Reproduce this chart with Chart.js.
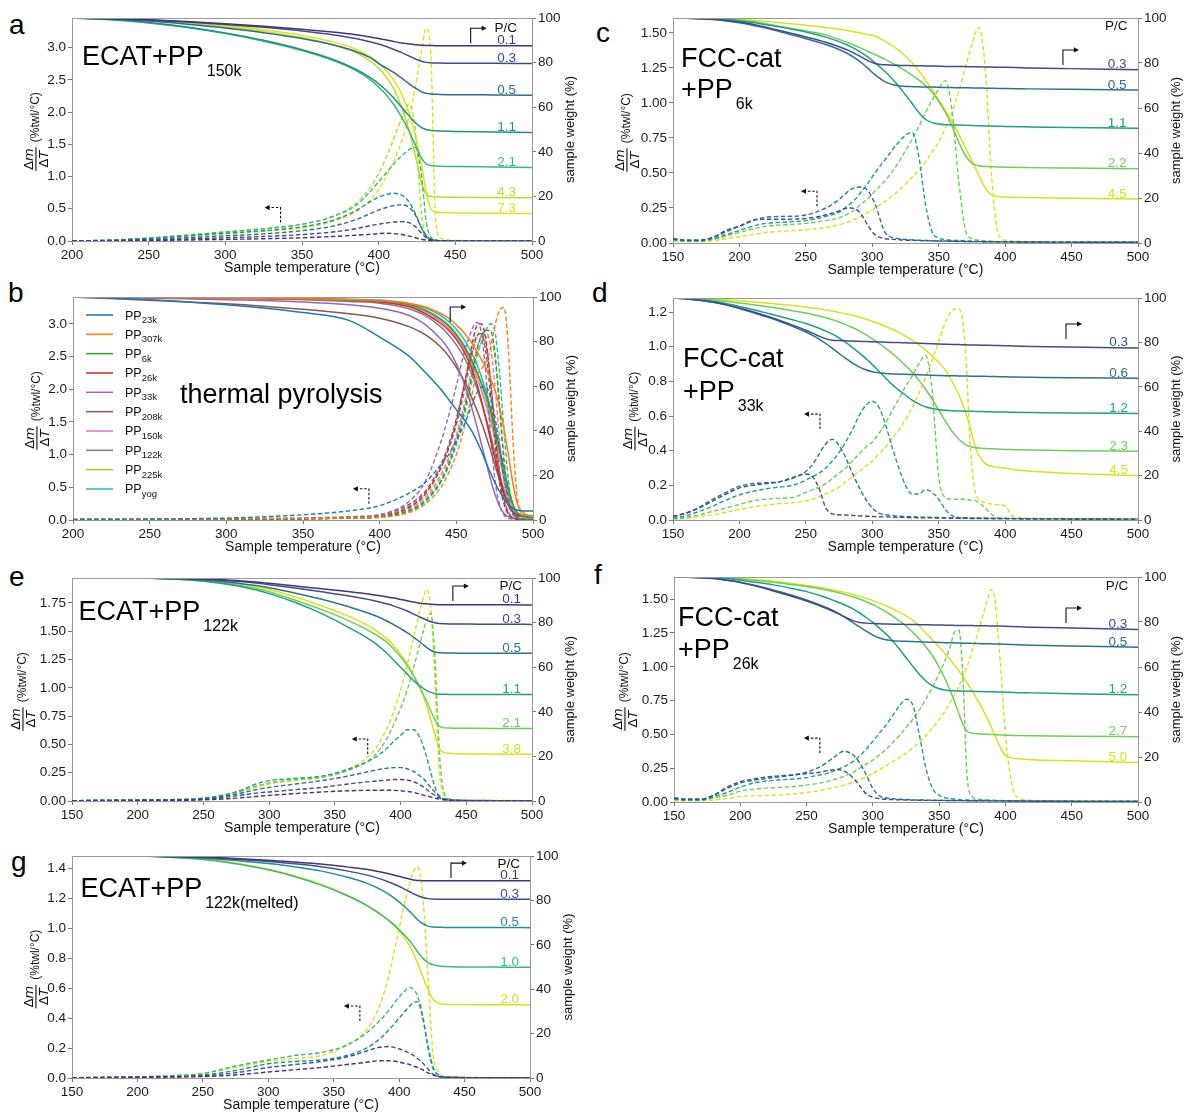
<!DOCTYPE html>
<html>
<head>
<meta charset="utf-8">
<script src="https://cdn.jsdelivr.net/npm/chart.js@4.4.1/dist/chart.umd.min.js"></script>
<style>
  html, body { margin: 0; padding: 0; background: #fff; }
  body { width: 1185px; height: 1113px; position: relative; overflow: hidden; }
  .panel { position: absolute; }
  .letter { position: absolute; font: 28px "Liberation Sans", Arial, sans-serif; line-height: 1; color: #000; }
</style>
</head>
<body>
<div class="letter" style="left:9px;top:11px">a</div>
<div class="letter" style="left:8px;top:279px">b</div>
<div class="letter" style="left:596px;top:19px">c</div>
<div class="letter" style="left:592px;top:279px">d</div>
<div class="letter" style="left:9px;top:563px">e</div>
<div class="letter" style="left:594px;top:561px">f</div>
<div class="letter" style="left:11px;top:848px">g</div>
<script>
// ---------- tick labels ----------
var ticksX200 = [200, 250, 300, 350, 400, 450, 500];
var ticksX150 = [150, 200, 250, 300, 350, 400, 450, 500];
var ticksW = [0, 20, 40, 60, 80, 100];
var ticksA = [0, 0.5, 1, 1.5, 2, 2.5, 3];
var ticksB = [0, 0.5, 1, 1.5, 2, 2.5, 3];
var ticksC = [0, 0.25, 0.5, 0.75, 1, 1.25, 1.5];
var ticksD = [0, 0.2, 0.4, 0.6, 0.8, 1, 1.2];
var ticksE = [0, 0.25, 0.5, 0.75, 1, 1.25, 1.5, 1.75];
var ticksF = [0, 0.25, 0.5, 0.75, 1, 1.25, 1.5];
var ticksG = [0, 0.2, 0.4, 0.6, 0.8, 1, 1.2, 1.4];

// ---------- panel a : ECAT + PP150k ----------
var pcA = ['0.1', '0.3', '0.5', '1.1', '2.1', '4.3', '7.3'];
var tempA = [200,225,250,275,300,325,350,370,385,395,400,405,410,415,420,424,428,431,434,437,440,450,475,500];
var tgaA = [
  [100,99.7,99.2,98.4,97.4,96.3,95,93.7,92.5,91.4,90.8,90.1,89.4,88.8,88.3,88,87.8,87.7,87.7,87.6,87.6,87.6,87.6,87.6],
  [100,99.7,99.1,98.2,97.1,95.8,94.2,92.5,90.8,89.2,88.3,87.2,85.9,84.5,82.9,81.6,80.6,80.1,79.9,79.8,79.8,79.7,79.7,79.6],
  [100,99.5,98.6,97.2,95.5,93.4,90.8,88,85,82,79.5,77.5,75.5,73,70.5,68.5,66.9,66.2,65.9,65.8,65.7,65.6,65.5,65.4],
  [100,99.3,98,96,93.3,90,85.8,81.5,77,73,70.5,67.5,64,60,56,53,50.8,50,49.6,49.4,49.3,49.1,48.9,48.7],
  [100,99.2,97.8,95.7,93,89.6,85.4,81,76.5,72,69,65.5,61,55.5,49,43,37,34.6,33.9,33.6,33.5,33.4,33.2,33],
  [100,99.5,98.8,97.6,96,94,91.2,88,84.5,80.5,77.5,73.5,68,60,49,38,26,21,20,19.8,19.7,19.6,19.5,19.4],
  [100,99.6,99,98,96.6,94.7,92.2,89.3,86,82.5,80,76.5,72,66,57,47,34,22,14.5,13,12.8,12.6,12.4,12.3]
];
var dtgA = [
  [0,0.003,0.008,0.015,0.025,0.035,0.05,0.07,0.09,0.105,0.115,0.12,0.115,0.1,0.075,0.05,0.028,0.015,0.008,0.004,0.002,0.001,0,0],
  [0,0.005,0.015,0.03,0.05,0.07,0.1,0.14,0.19,0.24,0.26,0.28,0.295,0.3,0.28,0.22,0.12,0.05,0.02,0.008,0.004,0.002,0.001,0],
  [0,0.008,0.025,0.05,0.08,0.11,0.16,0.23,0.33,0.43,0.48,0.52,0.55,0.56,0.52,0.4,0.2,0.08,0.03,0.01,0.005,0.002,0.001,0],
  [0,0.012,0.04,0.08,0.12,0.16,0.22,0.32,0.47,0.62,0.68,0.72,0.74,0.71,0.6,0.42,0.2,0.07,0.025,0.01,0.005,0.002,0.001,0],
  [0,0.015,0.045,0.09,0.14,0.19,0.26,0.38,0.55,0.78,0.92,1.06,1.2,1.32,1.42,1.45,1.0,0.3,0.06,0.02,0.008,0.003,0.001,0],
  [0,0.015,0.045,0.09,0.14,0.19,0.26,0.38,0.58,0.85,1.05,1.3,1.6,1.9,2.13,1.7,0.4,0.08,0.02,0.008,0.004,0.002,0.001,0],
  [0,0.012,0.035,0.07,0.11,0.15,0.2,0.3,0.45,0.65,0.8,1.0,1.25,1.55,1.95,2.4,2.95,3.3,2.9,0.4,0.05,0.01,0.003,0]
];

// ---------- panel b : thermal pyrolysis ----------
var namesB = ['23k', '307k', '6k', '26k', '33k', '208k', '150k', '122k', '225k', 'yog'];
var tempB = [200,250,300,350,380,400,420,430,440,445,450,455,460,463,466,469,472,475,478,481,484,487,490,495,500];
var tgaB = [
  [100,98.8,96.5,93,89.5,82,73,66,58.5,54,49.5,45,40,36,31.5,26.5,21.5,17,13,9.5,7,5.2,4.4,4,4],
  [100,99.8,99.5,99.2,98.8,98.3,97,95.5,92.5,90.5,87.5,84,79.5,76,72.5,68.5,64,58.5,51,41,29,16,7,2.5,1.5],
  [100,99.9,99.7,99.3,98.8,98.3,96.5,94,90,87,83,78,71.5,67,62,56.5,50,41,32,23,14,7,3,1.5,1.2],
  [100,99.8,99.5,99,98.5,97.8,95.5,92.5,88,85,81,75.5,68,62,54.5,46,37,28,19.5,12,6.5,3.5,2,1.5,1.2],
  [100,99.5,98.8,97.8,96.5,95,91.5,87.5,81,76.5,70,61.5,50.5,43,35,27,19,12,6.5,3,1.5,0.8,0.5,0.5,0.5],
  [100,98.5,97,94.5,92.5,90.5,86.5,83,77.5,73.5,68.5,62.5,55,50,44.5,38.5,32,25,18.5,12,7,3.8,2.2,1.5,1.5],
  [100,99.9,99.6,99.2,98.6,98,96,93.5,89,86,82,77,70,65,59,52.5,45,37,28,19,11,5.5,2.5,1.5,1.2],
  [100,99.8,99.4,98.8,98,97.2,94.5,91.5,86.5,83,78.5,73,65.5,60,53.5,46.5,39,30.5,21.5,13.5,7,3.5,2,1.5,1.5],
  [100,99.9,99.7,99.3,98.8,98.2,96.5,94,90,87.5,83.5,78.5,72,67,61.5,55,47.5,39,30,21,12.5,6,3,1.8,1.5],
  [100,99.9,99.8,99.5,99,98.6,97,95,91.5,89,85.5,81,75,70.5,65,58.5,51,42.5,33,23,13.5,6.5,3,2.2,2]
];
var dtgB = [
  [0.01,0.015,0.03,0.08,0.14,0.22,0.42,0.58,0.85,1.0,1.22,1.45,1.75,1.93,2.03,2.04,1.9,1.6,1.15,0.65,0.3,0.1,0.03,0.01,0.01],
  [0.01,0.01,0.02,0.025,0.03,0.04,0.12,0.25,0.5,0.72,1.0,1.4,1.9,2.2,2.3,2.4,2.6,2.95,3.2,3.25,2.6,1.2,0.3,0.03,0.01],
  [0,0.005,0.01,0.02,0.03,0.05,0.15,0.3,0.6,0.85,1.2,1.65,2.2,2.55,2.8,2.9,2.9,2.6,1.8,0.9,0.35,0.1,0.03,0.01,0],
  [0,0.005,0.01,0.02,0.03,0.05,0.2,0.4,0.8,1.1,1.5,2.05,2.65,2.95,3.0,2.8,2.2,1.4,0.7,0.3,0.1,0.03,0.01,0,0],
  [0,0.005,0.01,0.02,0.04,0.08,0.3,0.6,1.2,1.6,2.05,2.55,2.9,3.02,2.9,2.3,1.4,0.65,0.25,0.08,0.03,0.01,0,0,0],
  [0.01,0.015,0.02,0.03,0.05,0.08,0.25,0.45,0.85,1.15,1.55,2.05,2.55,2.8,2.85,2.6,2.0,1.25,0.6,0.25,0.08,0.03,0.01,0,0],
  [0,0.005,0.01,0.02,0.03,0.05,0.18,0.35,0.7,0.95,1.3,1.75,2.3,2.6,2.8,2.88,2.7,2.1,1.3,0.6,0.22,0.07,0.02,0,0],
  [0,0.005,0.01,0.02,0.03,0.06,0.22,0.42,0.8,1.1,1.45,1.95,2.5,2.78,2.87,2.7,2.2,1.5,0.8,0.35,0.12,0.04,0.01,0,0],
  [0,0.005,0.01,0.02,0.03,0.05,0.16,0.32,0.65,0.9,1.25,1.7,2.2,2.5,2.7,2.8,2.78,2.5,1.8,1.0,0.4,0.12,0.03,0.01,0],
  [0,0.005,0.01,0.02,0.03,0.04,0.14,0.28,0.58,0.82,1.15,1.58,2.1,2.45,2.7,2.88,3.0,2.9,2.3,1.4,0.6,0.2,0.05,0.01,0]
];

// ---------- panel c : FCC-cat + PP6k ----------
var pcC = ['0.3', '0.5', '1.1', '2.2', '4.5'];
var tempC = [150,160,170,180,190,200,210,220,235,250,265,275,282,287,292,297,302,310,318,325,330,335,340,345,350,355,360,365,370,375,380,385,390,395,400,420,450,500];
var tgaC = [
  [100,99.9,99.7,99.4,98.9,98.2,97.2,95.9,93.8,91.6,89.2,87.2,85.6,84.2,82.6,81,79.8,79.2,79,78.9,78.8,78.8,78.7,78.7,78.6,78.5,78.5,78.4,78.4,78.3,78.3,78.2,78.2,78.1,78.1,77.8,77.5,77],
  [100,99.9,99.7,99.3,98.7,97.9,96.8,95.5,93.2,90.8,88.2,86,84,82.2,80,77.5,74.8,71.5,70,69.6,69.5,69.4,69.3,69.3,69.2,69.1,69.1,69,69,68.9,68.9,68.8,68.8,68.7,68.7,68.5,68.3,68],
  [100,99.9,99.8,99.6,99.2,98.7,98,97,95.5,93.8,91.5,89.5,87.8,86.3,84.5,82.5,80.2,76,71,65.8,62,58,55,53.5,52.9,52.6,52.5,52.4,52.3,52.2,52.1,52,52,51.9,51.8,51.6,51.3,51],
  [100,99.9,99.8,99.7,99.4,99,98.4,97.5,95.8,94.2,92.5,90.5,89,87.8,86.5,85,83.8,81.5,79,76.5,74.5,72.5,70,67,63,58,52,45,39,35.5,34.3,34,33.9,33.8,33.7,33.5,33.3,33],
  [100,100,99.9,99.8,99.6,99.3,99,98.5,97.7,96.8,95.8,95,94.3,93.8,93.2,92.6,92,89.5,86.5,83,80,76.5,72.5,68,63.5,59,54,48.5,42.5,36.5,30.5,24.5,21.3,20.7,20.4,20.2,19.9,19.5]
];
var dtgC = [
  [0.03,0.02,0.02,0.04,0.09,0.12,0.16,0.17,0.17,0.175,0.2,0.23,0.25,0.245,0.2,0.12,0.06,0.03,0.025,0.02,0.02,0.018,0.016,0.015,0.014,0.013,0.012,0.011,0.01,0.01,0.01,0.009,0.009,0.008,0.008,0.007,0.006,0.005],
  [0.03,0.02,0.02,0.04,0.08,0.12,0.16,0.185,0.19,0.2,0.25,0.31,0.37,0.395,0.4,0.37,0.28,0.07,0.035,0.025,0.022,0.02,0.018,0.016,0.015,0.014,0.013,0.012,0.011,0.01,0.01,0.009,0.009,0.008,0.008,0.007,0.006,0.005],
  [0.025,0.015,0.015,0.03,0.06,0.09,0.12,0.14,0.15,0.16,0.19,0.22,0.27,0.31,0.37,0.43,0.5,0.6,0.7,0.77,0.79,0.62,0.28,0.08,0.035,0.025,0.02,0.018,0.016,0.014,0.012,0.011,0.01,0.009,0.008,0.007,0.006,0.005],
  [0.02,0.012,0.012,0.025,0.05,0.075,0.1,0.12,0.13,0.14,0.16,0.18,0.21,0.24,0.28,0.32,0.37,0.45,0.55,0.66,0.74,0.83,0.93,1.02,1.1,1.16,0.95,0.45,0.1,0.03,0.02,0.015,0.012,0.01,0.009,0.008,0.007,0.006],
  [0.015,0.01,0.01,0.015,0.03,0.045,0.06,0.075,0.085,0.095,0.11,0.13,0.15,0.17,0.19,0.22,0.25,0.3,0.36,0.42,0.47,0.52,0.58,0.65,0.72,0.82,0.93,1.08,1.25,1.42,1.54,1.25,0.45,0.06,0.02,0.01,0.008,0.006]
];

// ---------- panel d : FCC-cat + PP33k ----------
var pcD = ['0.3', '0.6', '1.2', '2.3', '4.5'];
var tempD = [150,160,170,180,190,200,210,220,230,240,250,255,260,265,270,275,280,285,290,295,300,305,310,315,320,325,330,335,340,345,350,355,360,365,370,374,378,385,392,400,406,420,450,500];
var tgaD = [
  [100,99.6,99,98.2,97,95.5,93.8,92,90,87.8,85.5,84.2,82.8,81.6,81,80.8,80.7,80.6,80.5,80.4,80.3,80.2,80.1,80,79.9,79.8,79.7,79.6,79.5,79.4,79.3,79.2,79.1,79,78.9,78.85,78.8,78.7,78.6,78.5,78.4,78.2,77.9,77.5],
  [100,99.6,99,98.1,96.9,95.3,93.5,91.6,89.5,87.2,84.7,83.2,81.5,79.5,77.3,75,72.8,70.8,69,67.7,66.8,66.3,66,65.8,65.7,65.6,65.5,65.4,65.3,65.2,65.1,65,65,64.9,64.9,64.8,64.8,64.7,64.6,64.5,64.4,64.3,64.1,63.9],
  [100,99.7,99.2,98.5,97.5,96.2,94.8,93.3,91.8,90.2,88.5,87.5,86.4,85.1,83.7,82,80,77.8,75.4,72.8,70,67,64,61,58.5,56.2,54,52.3,51,50.2,49.7,49.4,49.2,49.1,49,48.95,48.9,48.8,48.7,48.6,48.5,48.4,48.2,48],
  [100,99.8,99.5,99.1,98.5,97.8,97,96.2,95.3,94.3,93.2,92.6,91.9,91.1,90.2,89.2,88,86.7,85.2,83.5,81.6,79.6,77.4,75,72.4,69.6,66.5,63,59,54.5,49.5,44.5,40,36.5,34,33,32.5,32.2,32,31.8,31.7,31.5,31.2,31],
  [100,99.9,99.7,99.5,99.2,98.8,98.3,97.8,97.2,96.6,95.9,95.5,95.1,94.6,94.1,93.5,92.9,92.2,91.4,90.5,89.5,88.4,87.2,85.9,84.5,82.8,81,79,76.6,74,71,67.5,62.5,56.5,49,41,32,25.5,24,23.3,22.8,22,21,20]
];
var dtgD = [
  [0.02,0.04,0.07,0.11,0.15,0.185,0.2,0.21,0.22,0.245,0.265,0.25,0.18,0.07,0.035,0.03,0.028,0.026,0.024,0.022,0.02,0.019,0.018,0.017,0.016,0.015,0.014,0.013,0.012,0.012,0.011,0.011,0.01,0.01,0.01,0.009,0.009,0.009,0.008,0.008,0.008,0.007,0.006,0.005],
  [0.02,0.04,0.075,0.12,0.16,0.195,0.21,0.215,0.22,0.24,0.28,0.32,0.38,0.44,0.465,0.43,0.36,0.27,0.19,0.12,0.07,0.04,0.03,0.025,0.022,0.02,0.018,0.017,0.016,0.015,0.014,0.013,0.012,0.012,0.011,0.011,0.01,0.01,0.009,0.009,0.008,0.007,0.006,0.005],
  [0.01,0.025,0.05,0.08,0.115,0.145,0.165,0.18,0.19,0.2,0.23,0.25,0.27,0.3,0.34,0.39,0.45,0.52,0.6,0.66,0.685,0.65,0.55,0.42,0.3,0.2,0.15,0.15,0.175,0.16,0.12,0.06,0.025,0.015,0.012,0.011,0.01,0.009,0.009,0.008,0.008,0.007,0.006,0.005],
  [0.005,0.015,0.03,0.05,0.07,0.09,0.11,0.12,0.125,0.13,0.16,0.175,0.19,0.21,0.24,0.27,0.3,0.34,0.38,0.42,0.45,0.5,0.56,0.63,0.7,0.77,0.83,0.9,0.95,0.75,0.25,0.13,0.12,0.12,0.12,0.115,0.11,0.07,0.02,0.01,0.009,0.008,0.006,0.005],
  [0.005,0.01,0.02,0.03,0.045,0.06,0.075,0.085,0.095,0.1,0.11,0.12,0.135,0.15,0.17,0.19,0.22,0.25,0.28,0.31,0.34,0.38,0.42,0.47,0.52,0.58,0.65,0.73,0.82,0.92,1.03,1.14,1.21,1.22,1.0,0.4,0.15,0.1,0.09,0.08,0.02,0.01,0.008,0.006]
];

// ---------- panel e : ECAT + PP122k ----------
var pcE = ['0.1', '0.3', '0.5', '1.1', '2.1', '3.8'];
var tempE = [150,200,225,250,275,290,300,320,340,360,380,390,395,400,405,410,415,418,420,423,426,428,430,433,437,445,460,480,500];
var tgaE = [
  [100,100,99.9,99.6,98.9,98.2,97.6,96.4,95.2,93.9,92.4,91.5,91,90.4,89.8,89.2,88.7,88.5,88.4,88.2,88.1,88.05,88,88,88,88,88,88,87.9],
  [100,100,99.8,99.4,98.5,97.7,97,95.5,93.8,92,89.8,88.3,87.4,86.4,85.2,83.8,82.4,81.6,81.1,80.4,79.9,79.7,79.6,79.5,79.4,79.4,79.3,79.3,79.2],
  [100,100,99.7,99.1,97.8,96.6,95.6,93.2,90.5,87.2,83.3,80.6,79,77.3,75.5,73.4,71.2,69.8,68.8,67.6,66.8,66.6,66.5,66.4,66.4,66.3,66.3,66.3,66.2],
  [100,100,99.5,98.5,96.5,94.6,93,89,84,78,71,66,63,60,57,54,51.5,50.2,49.5,48.7,48.2,48,47.9,47.9,47.8,47.8,47.8,47.8,47.8],
  [100,100,99.6,98.8,97,95.3,93.8,90,85.8,81,75,71,68,64.7,60.7,56,50.5,47,44.5,40.5,36.5,34.5,33.4,32.9,32.7,32.6,32.6,32.5,32.5],
  [100,100,99.7,99,97.5,96,94.8,91.5,87.5,83,77,72.5,69.5,65.8,61.5,56.5,50.5,46,42.5,36.5,30,26,23,21.8,21.4,21.2,21.1,21,21]
];
var dtgE = [
  [0.003,0.005,0.006,0.01,0.025,0.04,0.05,0.065,0.08,0.09,0.095,0.095,0.094,0.09,0.085,0.075,0.06,0.05,0.045,0.035,0.025,0.02,0.015,0.01,0.006,0.004,0.003,0.002,0.002],
  [0.003,0.006,0.008,0.015,0.045,0.07,0.08,0.1,0.12,0.15,0.175,0.185,0.19,0.19,0.185,0.17,0.14,0.12,0.1,0.075,0.05,0.035,0.025,0.015,0.008,0.004,0.003,0.002,0.002],
  [0.003,0.007,0.01,0.02,0.06,0.1,0.12,0.15,0.18,0.22,0.27,0.29,0.295,0.295,0.285,0.26,0.22,0.19,0.16,0.12,0.08,0.055,0.035,0.02,0.01,0.005,0.003,0.002,0.002],
  [0.003,0.008,0.012,0.025,0.08,0.15,0.18,0.2,0.22,0.28,0.38,0.47,0.53,0.58,0.63,0.63,0.55,0.46,0.38,0.25,0.13,0.07,0.04,0.02,0.01,0.005,0.004,0.003,0.002],
  [0.003,0.008,0.012,0.025,0.08,0.13,0.16,0.19,0.21,0.27,0.4,0.56,0.68,0.82,0.98,1.18,1.4,1.53,1.6,1.66,1.3,0.8,0.35,0.08,0.02,0.008,0.005,0.003,0.002],
  [0.003,0.008,0.012,0.025,0.07,0.12,0.15,0.18,0.21,0.28,0.45,0.65,0.8,0.98,1.2,1.45,1.7,1.82,1.87,1.7,1.1,0.55,0.2,0.05,0.02,0.01,0.008,0.005,0.003]
];

// ---------- panel f : FCC-cat + PP26k ----------
var pcF = ['0.3', '0.5', '1.2', '2.7', '5.0'];
var tempF = [150,160,170,180,190,200,210,225,240,250,260,265,272,278,285,290,295,300,305,310,315,320,325,330,335,340,345,350,355,358,362,365,368,371,375,380,386,389,392,396,400,405,410,420,450,500];
var tgaF = [
  [100,99.9,99.7,99.3,98.6,97.6,96.2,93.8,91.2,89.3,87.2,86,84.2,82.5,80.6,79.8,79.5,79.3,79.2,79.1,79,79,78.9,78.9,78.8,78.8,78.7,78.7,78.6,78.6,78.5,78.5,78.5,78.4,78.4,78.3,78.3,78.2,78.2,78.2,78.1,78,77.9,77.7,77.3,76.7],
  [100,99.9,99.7,99.3,98.6,97.7,96.4,94.2,91.7,89.8,87.6,86.4,84.5,82.4,79.7,77.8,75.9,74.2,72.9,72.1,71.7,71.5,71.4,71.3,71.2,71.1,71,70.9,70.8,70.8,70.7,70.7,70.6,70.6,70.5,70.4,70.3,70.3,70.2,70.2,70.1,70,69.9,69.7,69.3,68.8],
  [100,99.9,99.8,99.6,99.2,98.6,97.8,96.5,94.8,93.5,91.8,90.8,89.2,87.8,85.8,84,82,79.8,77.3,74.6,71.5,68,64.2,60.4,56.8,53.8,51.6,50.3,49.7,49.5,49.4,49.3,49.3,49.2,49.2,49.1,49,49,48.9,48.9,48.8,48.7,48.6,48.5,48.1,47.7],
  [100,99.9,99.8,99.7,99.5,99.1,98.6,97.7,96.6,95.8,94.8,94.2,93.3,92.4,91.2,90.2,89,87.7,86.2,84.5,82.6,80.5,78.2,75.5,72.5,69,65,60,54,50,44,39,34.5,31.5,30.6,30.3,30.1,30,29.9,29.8,29.7,29.6,29.5,29.4,29.2,29],
  [100,100,99.9,99.8,99.6,99.3,98.9,98.1,97,96.2,95.3,94.8,94,93.2,92.2,91.4,90.5,89.5,88.4,87.2,85.9,84.4,82.7,80.8,78.3,75,72,68.8,65.5,63.4,60.5,58.2,55.7,53,49.2,44.2,37.5,33.7,29.8,24.5,20.6,19.6,19.2,18.8,18.3,17.6]
];
var dtgF = [
  [0.03,0.02,0.02,0.05,0.11,0.15,0.17,0.19,0.2,0.21,0.22,0.23,0.24,0.23,0.18,0.12,0.06,0.035,0.025,0.02,0.018,0.016,0.015,0.014,0.013,0.012,0.012,0.011,0.011,0.01,0.01,0.01,0.01,0.009,0.009,0.009,0.008,0.008,0.008,0.008,0.007,0.007,0.007,0.006,0.005,0.004],
  [0.03,0.02,0.02,0.05,0.1,0.14,0.16,0.18,0.2,0.22,0.26,0.29,0.34,0.375,0.35,0.29,0.2,0.1,0.045,0.03,0.025,0.02,0.018,0.016,0.015,0.014,0.013,0.012,0.012,0.011,0.011,0.01,0.01,0.01,0.009,0.009,0.009,0.008,0.008,0.008,0.008,0.007,0.007,0.006,0.005,0.004],
  [0.02,0.015,0.015,0.04,0.07,0.11,0.14,0.16,0.17,0.18,0.2,0.21,0.235,0.26,0.3,0.34,0.39,0.45,0.51,0.57,0.64,0.71,0.76,0.72,0.5,0.25,0.1,0.05,0.03,0.025,0.02,0.018,0.016,0.015,0.014,0.013,0.012,0.011,0.011,0.01,0.01,0.009,0.009,0.008,0.006,0.005],
  [0.02,0.012,0.012,0.03,0.05,0.08,0.095,0.105,0.115,0.125,0.14,0.15,0.17,0.19,0.22,0.25,0.28,0.31,0.35,0.39,0.44,0.49,0.55,0.61,0.68,0.76,0.85,0.95,1.06,1.14,1.26,1.27,0.9,0.2,0.04,0.02,0.015,0.013,0.012,0.011,0.01,0.009,0.008,0.007,0.006,0.005],
  [0.01,0.008,0.008,0.015,0.025,0.04,0.045,0.05,0.06,0.07,0.085,0.095,0.11,0.125,0.145,0.165,0.185,0.21,0.24,0.27,0.3,0.33,0.36,0.4,0.44,0.49,0.55,0.61,0.68,0.73,0.8,0.86,0.93,1.0,1.12,1.28,1.48,1.57,1.5,1.05,0.5,0.12,0.03,0.012,0.008,0.006]
];

// ---------- panel g : ECAT + PP122k(melted) ----------
var pcG = ['0.1', '0.3', '0.5', '1.0', '2.0'];
var tempG = [150,200,225,250,275,300,320,340,360,375,385,392,398,403,408,411,414,418,422,426,430,435,445,460,480,500];
var tgaG = [
  [100,100,99.8,99.5,98.9,98.1,97.3,96.4,95.1,94,92.9,92,91.1,90.3,89.6,89.2,89,88.9,88.8,88.8,88.8,88.8,88.8,88.8,88.8,88.8],
  [100,100,99.7,99.3,98.5,97.5,96.5,95.2,93.3,91.5,89.8,88.3,86.8,85.4,83.9,83,82.2,81.3,80.8,80.6,80.5,80.5,80.5,80.5,80.5,80.5],
  [100,100,99.6,99,98,96.6,95.2,93.3,90.5,87.8,85.2,82.8,80.2,77.8,75,73.2,71.4,69.5,68.4,68,67.9,67.8,67.8,67.8,67.8,67.7],
  [100,100,99.4,98.4,96.5,93.8,90.8,87,82.2,77.8,74,71,68,65,61.8,59.5,57,54,52,51,50.5,50.2,50,50,49.9,49.9],
  [100,100,99.5,98.6,96.8,94,91,87.3,82.5,78,74.3,71,67.5,64,59.5,56,51.8,45.8,40,35.5,33.6,33.2,33.1,33,33,33]
];
var dtgG = [
  [0.002,0.004,0.006,0.01,0.02,0.04,0.055,0.07,0.09,0.105,0.115,0.115,0.11,0.1,0.09,0.08,0.07,0.055,0.035,0.02,0.01,0.005,0.003,0.002,0.002,0.002],
  [0.002,0.005,0.008,0.015,0.035,0.07,0.09,0.11,0.14,0.18,0.205,0.21,0.2,0.185,0.165,0.15,0.13,0.1,0.06,0.025,0.01,0.005,0.003,0.002,0.002,0.002],
  [0.002,0.006,0.01,0.02,0.05,0.095,0.11,0.12,0.15,0.2,0.26,0.32,0.38,0.43,0.48,0.505,0.51,0.4,0.22,0.07,0.02,0.008,0.004,0.002,0.002,0.002],
  [0.002,0.008,0.015,0.03,0.08,0.12,0.15,0.17,0.22,0.3,0.38,0.45,0.52,0.57,0.605,0.59,0.55,0.42,0.2,0.06,0.02,0.008,0.004,0.002,0.002,0.002],
  [0.002,0.008,0.015,0.03,0.07,0.11,0.13,0.15,0.22,0.32,0.48,0.68,0.92,1.12,1.3,1.38,1.41,1.22,0.68,0.15,0.04,0.01,0.005,0.003,0.002,0.002]
];

// ---------- colours ----------
var colA = ['#46337e', '#3e4c8a', '#2f6c8e', '#21908d', '#3aba76', '#b5de2b', '#dfe318'];
var colB = ['#1f77b4', '#ff7f0e', '#2ca02c', '#d62728', '#9467bd', '#8c564b', '#e377c2', '#7f7f7f', '#bcbd22', '#17becf'];
var colC = ['#3e4c8a', '#2c728e', '#1f9e89', '#6ece58', '#d8e219'];
var colE = ['#46337e', '#3e4c8a', '#2c728e', '#1fa088', '#6ece58', '#d8e219'];
var colG = ['#46337e', '#3b528b', '#21908d', '#3aba76', '#d8e219'];

var FONT = '"Liberation Sans", Arial, sans-serif';
var L = 72, R = 47, T = 16, B = 40;

function axis(pos, min, max, ticks, fmt, size) {
  return {
    type: 'linear', position: pos, min: min, max: max,
    afterBuildTicks: function (s) { s.ticks = ticks.map(function (v) { return { value: v }; }); },
    afterFit: function (s) { if (pos === 'bottom') s.height = size; else s.width = size; },
    ticks: { autoSkip: false, maxRotation: 0, padding: 2, color: '#1a1a1a', font: { family: FONT, size: 13.5 }, callback: fmt },
    grid: { display: true, drawOnChartArea: false, drawTicks: true, tickLength: 4, color: '#777', lineWidth: 1 },
    border: { display: true, color: '#999', width: 1 }
  };
}

function drawDtgTitle(ctx, cx, cy) {
  ctx.save();
  ctx.translate(cx, cy);
  ctx.rotate(-Math.PI / 2);
  ctx.fillStyle = '#111';
  var up = '13px "DejaVu Sans"', it = 'italic 13px "DejaVu Sans"';
  ctx.font = up; var wD = ctx.measureText('Δ').width;
  ctx.font = it; var wm = ctx.measureText('m').width, wT = ctx.measureText('T').width;
  var fw = Math.max(wD + wm, wD + wT) + 2;
  ctx.font = '12px ' + FONT; var uw = ctx.measureText('(%twl/°C)').width;
  var gap = 5, x = -(fw + gap + uw) / 2;
  ctx.textAlign = 'left'; ctx.textBaseline = 'alphabetic';
  var nx = x + (fw - wD - wm) / 2;
  ctx.font = up; ctx.fillText('Δ', nx, -3);
  ctx.font = it; ctx.fillText('m', nx + wD, -3);
  var dx = x + (fw - wD - wT) / 2;
  ctx.font = up; ctx.fillText('Δ', dx, 12);
  ctx.font = it; ctx.fillText('T', dx + wD, 12);
  ctx.fillRect(x, -0.6, fw, 1.1);
  ctx.font = '12px ' + FONT; ctx.textBaseline = 'middle';
  ctx.fillText('(%twl/°C)', x + fw + gap, 0);
  ctx.restore();
}

function drawArrow(ctx, x, y, dir, dashed) {
  ctx.save();
  ctx.strokeStyle = '#111'; ctx.fillStyle = '#111'; ctx.lineWidth = 1.1;
  ctx.setLineDash(dashed ? [2.5, 1.8] : []);
  ctx.beginPath();
  ctx.moveTo(x, y + 15); ctx.lineTo(x, y); ctx.lineTo(x + dir * 12, y);
  ctx.stroke();
  ctx.setLineDash([]);
  ctx.beginPath();
  ctx.moveTo(x + dir * 16, y); ctx.lineTo(x + dir * 11, y - 2.6); ctx.lineTo(x + dir * 11, y + 2.6);
  ctx.closePath(); ctx.fill();
  ctx.restore();
}

function makeDecor(p) {
  return {
    id: 'decor',
    afterDraw: function (chart) {
      var ctx = chart.ctx, a = chart.chartArea, sx = chart.scales.x, sw = chart.scales.y1;
      var cy = (a.top + a.bottom) / 2;
      ctx.save();
      // top spine
      ctx.strokeStyle = '#999'; ctx.lineWidth = 1;
      ctx.beginPath(); ctx.moveTo(a.left, a.top + 0.5); ctx.lineTo(a.right, a.top + 0.5); ctx.stroke();
      // axis titles
      ctx.fillStyle = '#111';
      ctx.font = '14px ' + FONT; ctx.textAlign = 'center'; ctx.textBaseline = 'middle';
      ctx.fillText('Sample temperature (°C)', (a.left + a.right) / 2, a.bottom + 27);
      ctx.save();
      ctx.translate(a.right + 38, cy); ctx.rotate(-Math.PI / 2);
      ctx.font = '13px ' + FONT; ctx.fillText('sample weight (%)', 0, 0);
      ctx.restore();
      drawDtgTitle(ctx, a.left - p.titleOff, cy + 2);

      // big sample label
      ctx.fillStyle = '#000'; ctx.textAlign = 'left'; ctx.textBaseline = 'alphabetic';
      var bg = p.big;
      bg.text.forEach(function (t, i) {
        ctx.font = '27px ' + FONT;
        ctx.fillText(t, a.left + bg.x, a.top + bg.y[i]);
        if (i === bg.text.length - 1 && bg.sub) {
          var w = ctx.measureText(t).width;
          ctx.font = '16px ' + FONT;
          ctx.fillText(bg.sub, a.left + bg.x + w + 3, a.top + bg.y[i] + 11);
        }
      });

      // P/C labels at the right end of each weight curve
      if (p.pcLabels) {
        ctx.font = '13.5px ' + FONT; ctx.textAlign = 'right'; ctx.textBaseline = 'alphabetic';
        p.labels.forEach(function (lab, i) {
          var last = p.tga[i][p.tga[i].length - 1];
          ctx.fillStyle = p.colors[i];
          ctx.fillText(lab, a.right - p.labRight, sw.getPixelForValue(last) - 1.5);
        });
        if (p.pcHead) {
          ctx.fillStyle = '#111';
          ctx.fillText('P/C', a.right - p.labRight + 1, a.top + p.pcHead);
        }
      }

      // legend (panel b)
      if (p.legend) {
        p.labels.forEach(function (lab, i) {
          var y = a.top + 18 + i * 19.33;
          ctx.strokeStyle = p.colors[i]; ctx.lineWidth = 1.5;
          ctx.beginPath(); ctx.moveTo(a.left + 13, y); ctx.lineTo(a.left + 40, y); ctx.stroke();
          ctx.fillStyle = '#111'; ctx.textAlign = 'left';
          ctx.font = '12.5px ' + FONT;
          ctx.fillText('PP', a.left + 52, y + 4.5);
          var w = ctx.measureText('PP').width;
          ctx.font = '9.5px ' + FONT;
          ctx.fillText(lab, a.left + 52 + w, y + 8);
        });
      }

      // arrows pointing to the axes
      p.arrows.forEach(function (ar) {
        drawArrow(ctx, sx.getPixelForValue(ar.t), sw.getPixelForValue(ar.w), ar.dir, ar.dashed);
      });
      ctx.restore();
    }
  };
}

function buildPanel(p) {
  var x0 = p.box[0], y0 = p.box[1], x1 = p.box[2], y1 = p.box[3];
  var W = x1 - x0 + L + R, H = y1 - y0 + T + B;
  var div = document.createElement('div');
  div.className = 'panel';
  div.style.left = (x0 - L) + 'px'; div.style.top = (y0 - T) + 'px';
  div.style.width = W + 'px'; div.style.height = H + 'px';
  var cv = document.createElement('canvas');
  cv.width = W; cv.height = H;
  cv.style.width = W + 'px'; cv.style.height = H + 'px';
  div.appendChild(cv);
  document.body.appendChild(div);

  var datasets = [];
  p.labels.forEach(function (lab, i) {
    datasets.push({
      label: 'DTG ' + lab, yAxisID: 'y',
      data: p.temp.map(function (t, k) { return { x: t, y: p.dtg[i][k] }; }),
      borderColor: p.colors[i], borderWidth: 1.4, borderDash: [4.5, 2.5],
      pointRadius: 0, cubicInterpolationMode: 'monotone', fill: false
    });
    datasets.push({
      label: 'weight ' + lab, yAxisID: 'y1',
      data: p.temp.map(function (t, k) { return { x: t, y: p.tga[i][k] }; }),
      borderColor: p.colors[i], borderWidth: 1.5,
      pointRadius: 0, cubicInterpolationMode: 'monotone', fill: false
    });
  });

  new Chart(cv.getContext('2d'), {
    type: 'line',
    data: { datasets: datasets },
    options: {
      responsive: false, animation: false, devicePixelRatio: 1,
      layout: { padding: { left: L - 36, right: R - 28, top: T, bottom: 0 } },
      plugins: { legend: { display: false }, tooltip: { enabled: false } },
      scales: {
        x: axis('bottom', p.xMin, 500, p.xTicks, function (v) { return v; }, B),
        y: axis('left', 0, p.yMax, p.yTicks, function (v) { return v.toFixed(p.dec); }, 36),
        y1: axis('right', 0, 100, ticksW, function (v) { return v; }, 28)
      }
    },
    plugins: [makeDecor(p)]
  });
}

var panels = [
  { box: [72, 18, 532, 241], temp: tempA, dtg: dtgA, tga: tgaA, labels: pcA, colors: colA,
    xMin: 200, xTicks: ticksX200, yMax: 3.46, yTicks: ticksA, dec: 1, titleOff: 36,
    big: { x: 10, y: [47], text: ['ECAT+PP'], sub: '150k' },
    pcLabels: true, pcHead: 13.5, labRight: 16,
    arrows: [{ t: 460, w: 95.4, dir: 1 }, { t: 336, w: 15, dir: -1, dashed: true }] },
  { box: [73, 297, 533, 520], temp: tempB, dtg: dtgB, tga: tgaB, labels: namesB, colors: colB,
    xMin: 200, xTicks: ticksX200, yMax: 3.41, yTicks: ticksB, dec: 1, titleOff: 36,
    big: { x: 107, y: [106], text: ['thermal pyrolysis'] },
    legend: true,
    arrows: [{ t: 446, w: 95.5, dir: 1 }, { t: 393, w: 14, dir: -1, dashed: true }] },
  { box: [673, 18, 1138, 243], temp: tempC, dtg: dtgC, tga: tgaC, labels: pcC, colors: colC,
    xMin: 150, xTicks: ticksX150, yMax: 1.607, yTicks: ticksC, dec: 2, titleOff: 46,
    big: { x: 8, y: [48.7, 80.3], text: ['FCC-cat', '+PP'], sub: '6k' },
    pcLabels: true, pcHead: 12, labRight: 11.5,
    arrows: [{ t: 443.5, w: 85.8, dir: 1 }, { t: 258.4, w: 23, dir: -1, dashed: true }] },
  { box: [673, 298, 1138, 520], temp: tempD, dtg: dtgD, tga: tgaD, labels: pcD, colors: colC,
    xMin: 150, xTicks: ticksX150, yMax: 1.281, yTicks: ticksD, dec: 1, titleOff: 38,
    big: { x: 10, y: [69.3, 102], text: ['FCC-cat', '+PP'], sub: '33k' },
    pcLabels: true, labRight: 10,
    arrows: [{ t: 445.8, w: 88.3, dir: 1 }, { t: 260.6, w: 47.7, dir: -1, dashed: true }] },
  { box: [72, 578, 532, 801], temp: tempE, dtg: dtgE, tga: tgaE, labels: pcE, colors: colE,
    xMin: 150, xTicks: ticksX150, yMax: 1.97, yTicks: ticksE, dec: 2, titleOff: 49,
    big: { x: 6.5, y: [42], text: ['ECAT+PP'], sub: '122k' },
    pcLabels: true, pcHead: 12, labRight: 11,
    arrows: [{ t: 439.8, w: 96.4, dir: 1 }, { t: 375, w: 27.8, dir: -1, dashed: true }] },
  { box: [674, 577, 1138, 802], temp: tempF, dtg: dtgF, tga: tgaF, labels: pcF, colors: colC,
    xMin: 150, xTicks: ticksX150, yMax: 1.664, yTicks: ticksF, dec: 2, titleOff: 49,
    big: { x: 4, y: [49, 81.3], text: ['FCC-cat', '+PP'], sub: '26k' },
    pcLabels: true, pcHead: 13, labRight: 10.7,
    arrows: [{ t: 445.7, w: 86.2, dir: 1 }, { t: 260, w: 28.4, dir: -1, dashed: true }] },
  { box: [72, 856, 530, 1078], temp: tempG, dtg: dtgG, tga: tgaG, labels: pcG, colors: colG,
    xMin: 150, xTicks: ticksX150, yMax: 1.482, yTicks: ticksG, dec: 1, titleOff: 36,
    big: { x: 8.4, y: [40.7], text: ['ECAT+PP'], sub: '122k(melted)' },
    pcLabels: true, pcHead: 11.5, labRight: 11,
    arrows: [{ t: 439.6, w: 96.8, dir: 1 }, { t: 370, w: 32.4, dir: -1, dashed: true }] }
];

panels.forEach(buildPanel);
</script>
</body>
</html>
